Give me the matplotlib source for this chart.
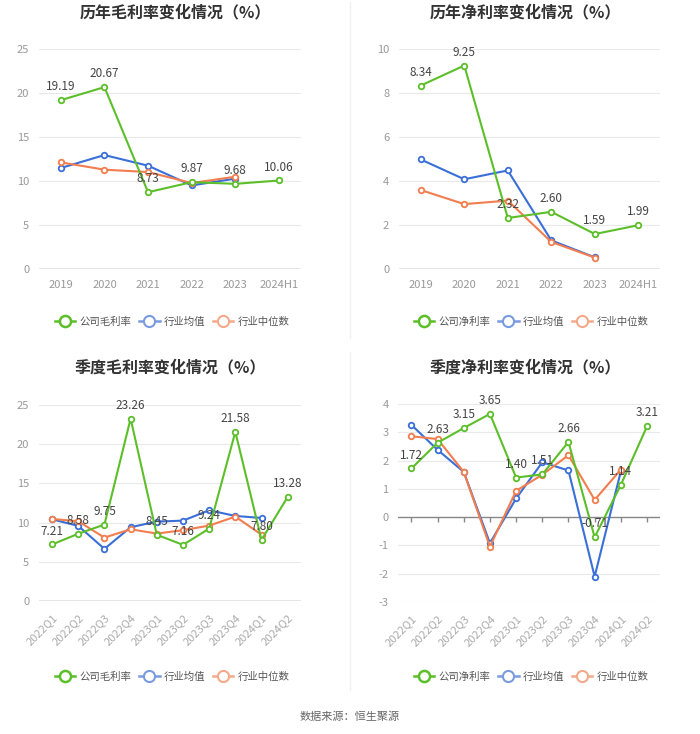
import matplotlib
matplotlib.use('Agg')
import matplotlib.pyplot as plt
from matplotlib.lines import Line2D
import numpy as np

plt.rcParams['font.family'] = ['Noto Sans CJK SC', 'DejaVu Sans']

### data
years = ['2019', '2020', '2021', '2022', '2023', '2024H1']
quarters = ['2022Q1', '2022Q2', '2022Q3', '2022Q4', '2023Q1', '2023Q2',
            '2023Q3', '2023Q4', '2024Q1', '2024Q2']

year_gross_company = [19.19, 20.67, 8.73, 9.87, 9.68, 10.06]
year_gross_mean = [11.48, 12.95, 11.74, 9.50, 10.27]
year_gross_median = [12.12, 11.29, 11.02, 9.77, 10.49]

year_net_company = [8.34, 9.25, 2.32, 2.60, 1.59, 1.99]
year_net_mean = [4.98, 4.08, 4.48, 1.30, 0.53]
year_net_median = [3.59, 2.95, 3.11, 1.23, 0.52]

q_gross_company = [7.21, 8.58, 9.75, 23.26, 8.45, 7.16, 9.24, 21.58, 7.80, 13.28]
q_gross_mean = [10.42, 9.58, 6.65, 9.41, 10.13, 10.25, 11.57, 10.85, 10.59]
q_gross_median = [10.47, 10.17, 8.09, 9.15, 8.60, 9.03, 9.62, 10.76, 8.47]

q_net_company = [1.72, 2.63, 3.15, 3.65, 1.40, 1.51, 2.66, -0.71, 1.14, 3.21]
q_net_mean = [3.26, 2.38, 1.60, -0.92, 0.66, 1.94, 1.65, -2.10, 1.62]
q_net_median = [2.86, 2.76, 1.60, -1.04, 0.93, 1.50, 2.19, 0.61, 1.68]

GREEN = '#5cbf2a'
BLUE = '#3a6fd8'
ORANGE = '#f27d4e'
GRAY = '#999999'

fig = plt.figure(figsize=(7, 7.34), dpi=100)


def draw(rect, cats, comp, mean, med, yticks, rotate):
    ax = fig.add_axes(rect)
    x = np.arange(len(cats))
    ax.set_xlim(-0.5, len(cats) - 0.5)
    ax.set_ylim(yticks[0], yticks[-1])
    ax.set_yticks(yticks)
    ax.set_yticklabels([str(t) for t in yticks], color=GRAY, fontsize=8)
    ax.tick_params(axis='y', length=0, pad=7)
    for t in yticks:
        ax.axhline(t, color='#e9e9e9', lw=0.8, zorder=0)
    for s in ['top', 'right', 'left', 'bottom']:
        ax.spines[s].set_visible(False)
    # axis line at zero with ticks
    ax.axhline(0, color='#888888', lw=1, zorder=1)
    span = yticks[-1] - yticks[0]
    ax.vlines(x, 0, -span * 0.025, color='#888888', lw=1, zorder=1)
    ax.set_xticks(x)
    if rotate:
        ax.set_xticklabels(cats, rotation=45, ha='right', rotation_mode='anchor',
                           color='#aaaaaa', fontsize=8)
    else:
        ax.set_xticklabels(cats, color=GRAY, fontsize=8)
    ax.tick_params(axis='x', length=0, pad=8)

    kw = dict(lw=1.5, marker='o', markersize=4, markerfacecolor='white',
              markeredgewidth=1.3)
    ax.plot(x[:len(mean)], mean, color=BLUE, zorder=3, **kw)
    ax.plot(x[:len(med)], med, color=ORANGE, zorder=3, **kw)
    ax.plot(x, comp, color=GREEN, zorder=4, **kw)
    for xi, v in zip(x, comp):
        ax.annotate('%.2f' % v, (xi, v), xytext=(0, 5), textcoords='offset points',
                    ha='center', va='bottom', fontsize=8.5, color='#444444', zorder=5)
    return ax


def legend(name, cx, cy):
    handles = [
        Line2D([], [], color=GREEN, lw=1.8, marker='o', markersize=8,
               markerfacecolor='white', markeredgewidth=1.8),
        Line2D([], [], color='#7a9be0', lw=1.8, marker='o', markersize=8,
               markerfacecolor='white', markeredgewidth=1.5),
        Line2D([], [], color='#f3a98a', lw=1.8, marker='o', markersize=8,
               markerfacecolor='white', markeredgewidth=1.5),
    ]
    fig.legend(handles, [name, '行业均值', '行业中位数'], loc='center',
               bbox_to_anchor=(cx / 700, 1 - cy / 734), ncol=3, frameon=False,
               fontsize=7.5, handlelength=2.0, columnspacing=0.7, handletextpad=0.4,
               labelcolor='#555555')


draw([0.0557, 0.6335, 0.374, 0.2997], years, year_gross_company,
     year_gross_mean, year_gross_median, [0, 5, 10, 15, 20, 25], False)
legend('公司毛利率', 172, 322)

draw([0.570, 0.6335, 0.373, 0.2997], years, year_net_company,
     year_net_mean, year_net_median, [0, 2, 4, 6, 8, 10], False)
legend('公司净利率', 531, 322)

draw([0.0557, 0.1812, 0.374, 0.267], quarters, q_gross_company,
     q_gross_mean, q_gross_median, [0, 5, 10, 15, 20, 25], True)
legend('公司毛利率', 172, 677)

draw([0.569, 0.1798, 0.374, 0.2698], quarters, q_net_company,
     q_net_mean, q_net_median, [-3, -2, -1, 0, 1, 2, 3, 4], True)
legend('公司净利率', 531, 677)

# titles
title_kw = dict(ha='center', va='center', fontsize=11.5, fontweight='bold',
                color='#333333')
fig.text(175 / 700, 1 - 12 / 734, '历年毛利率变化情况（%）', **title_kw)
fig.text(525 / 700, 1 - 12 / 734, '历年净利率变化情况（%）', **title_kw)
fig.text(170 / 700, 1 - 367 / 734, '季度毛利率变化情况（%）', **title_kw)
fig.text(525 / 700, 1 - 367 / 734, '季度净利率变化情况（%）', **title_kw)

# faint separators
fig.add_artist(Line2D([350 / 700, 350 / 700], [1 - 2 / 734, 1 - 338 / 734],
                      color='#f0f0f0', lw=1))
fig.add_artist(Line2D([350 / 700, 350 / 700], [1 - 352 / 734, 1 - 690 / 734],
                      color='#f0f0f0', lw=1))

fig.text(0.5, 1 - 717 / 734, '数据来源：恒生聚源', ha='center', va='center',
         fontsize=8, color='#666666')

fig.savefig('out.png', dpi=100)
